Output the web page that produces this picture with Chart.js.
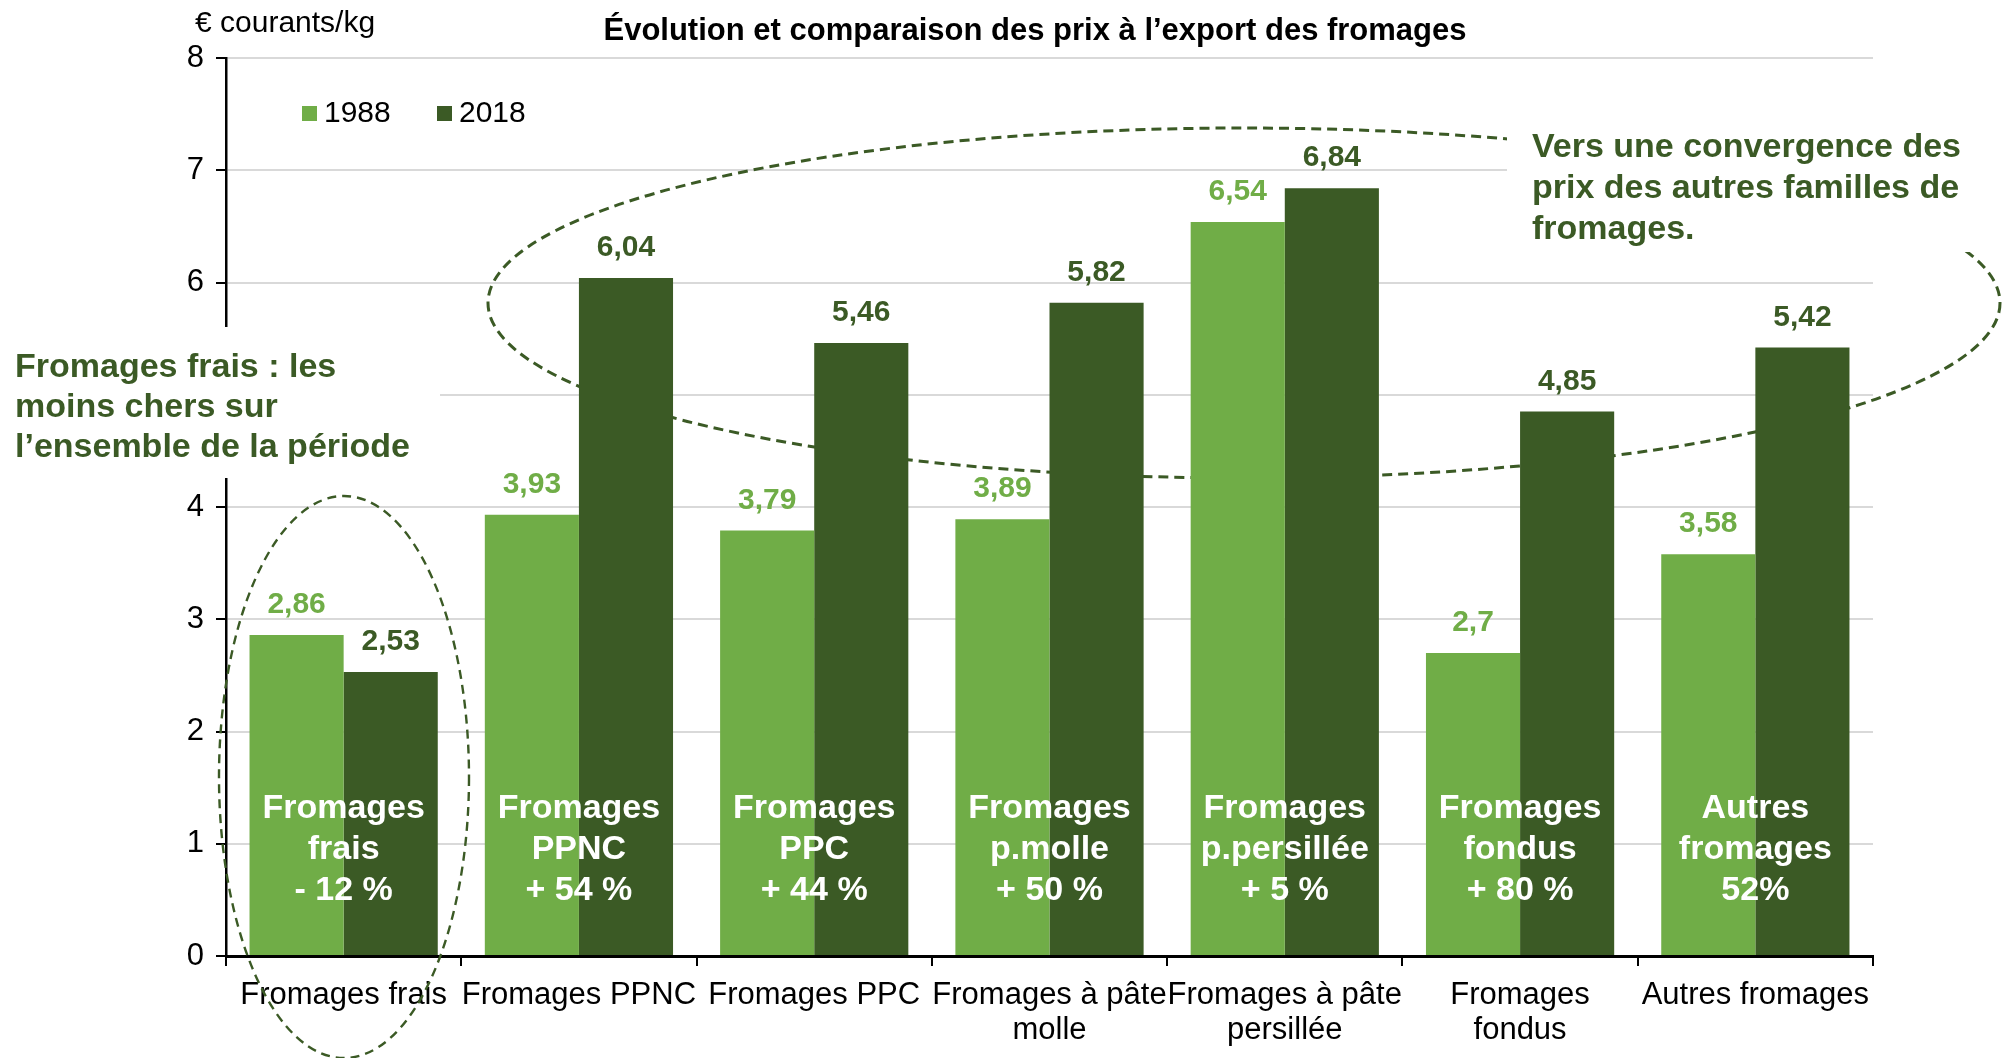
<!DOCTYPE html>
<html lang="fr">
<head>
<meta charset="utf-8">
<script src="https://cdn.jsdelivr.net/npm/chart.js@4.4.1/dist/chart.umd.min.js"></script>
<style>
  html, body { margin: 0; padding: 0; background: #fff; }
</style>
</head>
<body>
<canvas id="chart" width="2013" height="1058"></canvas>
<script>
// Data
const categories = [
	'Fromages frais',
	'Fromages PPNC',
	'Fromages PPC',
	['Fromages à pâte', 'molle'],
	['Fromages à pâte', 'persillée'],
	['Fromages', 'fondus'],
	'Autres fromages'
];
const values1988 = [2.86, 3.93, 3.79, 3.89, 6.54, 2.7, 3.58];
const values2018 = [2.53, 6.04, 5.46, 5.82, 6.84, 4.85, 5.42];
const insideLabels = [
	['Fromages', 'frais', '- 12 %'],
	['Fromages', 'PPNC', '+ 54 %'],
	['Fromages', 'PPC', '+ 44 %'],
	['Fromages', 'p.molle', '+ 50 %'],
	['Fromages', 'p.persillée', '+ 5 %'],
	['Fromages', 'fondus', '+ 80 %'],
	['Autres', 'fromages', '52%']
];
const seriesNames = ['1988', '2018'];
const yMin = 0;
const yMax = 8;

const FONT = "'Liberation Sans', Arial, sans-serif";
const LIGHT = '#70ad47';
const DARK = '#3b5a25';

function fmt(v) {
	return String(v).replace('.', ',');
}

const decor = {
	id: 'decor',
	beforeDatasetsDraw(chart) {
		// big dashed ellipse around the other families (sits behind the bars)
		const ctx = chart.ctx;
		ctx.save();
		ctx.setLineDash([10, 6]);
		ctx.lineWidth = 3;
		ctx.strokeStyle = DARK;
		ctx.beginPath();
		ctx.ellipse(1244, 303, 756, 175, 0, 0, Math.PI * 2);
		ctx.stroke();
		ctx.restore();
	},
	afterDatasetsDraw(chart) {
		const ctx = chart.ctx;
		const xs = chart.scales.x;
		const ys = chart.scales.y;
		ctx.save();

		// value labels above the bars
		ctx.font = 'bold 30px ' + FONT;
		ctx.textAlign = 'center';
		ctx.textBaseline = 'alphabetic';
		chart.data.datasets.forEach((ds, di) => {
			const meta = chart.getDatasetMeta(di);
			ctx.fillStyle = di === 0 ? LIGHT : DARK;
			meta.data.forEach((bar, i) => {
				ctx.fillText(fmt(ds.data[i]), bar.x, bar.y - 22);
			});
		});

		// white text inside each group
		ctx.font = 'bold 34px ' + FONT;
		ctx.fillStyle = '#ffffff';
		ctx.textBaseline = 'middle';
		const midY = ys.getPixelForValue(0.95);
		insideLabels.forEach((lines, i) => {
			const cx = xs.getPixelForValue(i);
			lines.forEach((t, k) => {
				ctx.fillText(t, cx, midY + (k - 1) * 41);
			});
		});

		// dashed ellipse around fromages frais
		ctx.setLineDash([9, 6]);
		ctx.lineWidth = 2.4;
		ctx.strokeStyle = DARK;
		ctx.beginPath();
		ctx.ellipse(344, 777, 125, 281, 0, 0, Math.PI * 2);
		ctx.stroke();
		ctx.restore();
	},
	afterDraw(chart) {
		const ctx = chart.ctx;
		ctx.save();

		// white boxes behind the annotations
		ctx.fillStyle = '#ffffff';
		ctx.fillRect(0, 327, 440, 151);
		ctx.fillRect(1507, 120, 506, 132);

		// annotations
		ctx.fillStyle = DARK;
		ctx.font = 'bold 34px ' + FONT;
		ctx.textAlign = 'left';
		ctx.textBaseline = 'middle';
		['Fromages frais : les', 'moins chers sur', 'l\u2019ensemble de la période'].forEach((t, k) => {
			ctx.fillText(t, 15, 368 + k * 40);
		});
		['Vers une convergence des', 'prix des autres familles de', 'fromages.'].forEach((t, k) => {
			ctx.fillText(t, 1532, 148 + k * 41);
		});

		// title
		ctx.fillStyle = '#000000';
		ctx.font = 'bold 31px ' + FONT;
		ctx.textAlign = 'center';
		ctx.fillText('Évolution et comparaison des prix à l\u2019export des fromages', 1035, 31);

		// unit
		ctx.font = '30px ' + FONT;
		ctx.textAlign = 'left';
		ctx.fillText('€ courants/kg', 195, 24);

		// legend
		const colors = [LIGHT, DARK];
		const lx = [302, 437];
		ctx.font = '30px ' + FONT;
		seriesNames.forEach((name, i) => {
			ctx.fillStyle = colors[i];
			ctx.fillRect(lx[i], 106, 15, 15);
			ctx.fillStyle = '#000000';
			ctx.fillText(name, lx[i] + 22, 114);
		});
		ctx.restore();
	}
};

new Chart(document.getElementById('chart'), {
	type: 'bar',
	data: {
		labels: categories,
		datasets: [
			{ label: seriesNames[0], data: values1988, backgroundColor: LIGHT, borderWidth: 0 },
			{ label: seriesNames[1], data: values2018, backgroundColor: DARK, borderWidth: 0 }
		]
	},
	options: {
		responsive: false,
		animation: false,
		devicePixelRatio: 1,
		layout: { padding: { top: 58, right: 140, left: 0, bottom: 0 } },
		datasets: { bar: { categoryPercentage: 0.8, barPercentage: 1.0 } },
		plugins: {
			legend: { display: false },
			title: { display: false },
			tooltip: { enabled: false }
		},
		scales: {
			x: {
				grid: { drawOnChartArea: false, tickLength: 10, tickColor: '#000', lineWidth: 2 },
				border: { color: '#000', width: 3 },
				ticks: {
					color: '#000',
					font: { family: FONT, size: 31, lineHeight: 1.16 },
					padding: 11,
					maxRotation: 0,
					autoSkip: false
				},
				afterFit(scale) { scale.height = 102; }
			},
			y: {
				min: yMin,
				max: yMax,
				grid: { color: '#d9d9d9', lineWidth: 2, tickLength: 10, tickColor: '#000' },
				border: { color: '#000', width: 2.5 },
				ticks: {
					stepSize: 1,
					color: '#000',
					font: { family: FONT, size: 31 },
					padding: 12
				},
				afterFit(scale) { scale.width = 226; }
			}
		}
	},
	plugins: [decor]
});
</script>
</body>
</html>
